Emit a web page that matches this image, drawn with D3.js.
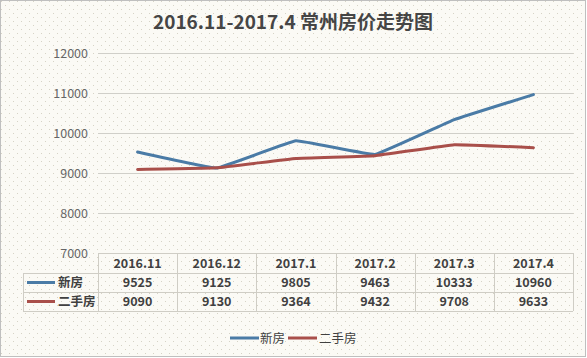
<!DOCTYPE html>
<html><head><meta charset="utf-8">
<script src="https://cdn.jsdelivr.net/npm/d3@7"></script>
<style>
html,body{margin:0;padding:0;background:#fff;}
svg{display:block;font-family:"Microsoft YaHei","Noto Sans CJK SC",sans-serif;}
</style></head>
<body><svg id="c" width="587" height="358"></svg>
<script>
const categories = ["2016.11","2016.12","2017.1","2017.2","2017.3","2017.4"];
const seriesNames = ["新房","二手房"];
const newHouse = [9525,9125,9805,9463,10333,10960];
const secondHand = [9090,9130,9364,9432,9708,9633];
const yTicks = [7000,8000,9000,10000,11000,12000];
const colors = ["#4a7ba6","#a94f4a"];
const title = "2016.11-2017.4 常州房价走势图";

const svg = d3.select("#c");
const defs = svg.append("defs");
const pat = defs.append("pattern").attr("id","dots").attr("width",8).attr("height",8).attr("patternUnits","userSpaceOnUse");
pat.append("rect").attr("width",8).attr("height",8).attr("fill","#fbfaf5");
pat.append("rect").attr("x",1).attr("y",1).attr("width",1).attr("height",1).attr("fill","#d6d3c6");
pat.append("rect").attr("x",5).attr("y",5).attr("width",1).attr("height",1).attr("fill","#d6d3c6");

svg.append("rect").attr("x",0.5).attr("y",0.5).attr("width",585).attr("height",356)
  .attr("fill","url(#dots)").attr("stroke","#bfbfbf");

svg.append("text").attr("x",293).attr("y",29).attr("text-anchor","middle")
  .attr("font-size",19).attr("font-weight","bold").attr("fill","#454545").text(title);

const left = 98, right = 573;
const x = d3.scaleBand().domain(categories).range([left,right]);
const y = d3.scaleLinear().domain([7000,12000]).range([253,53]);

// gridlines
svg.append("g").selectAll("line").data(yTicks.slice(1)).join("line")
  .attr("x1",left).attr("x2",right).attr("y1",d=>y(d)+0.5).attr("y2",d=>y(d)+0.5)
  .attr("stroke","#d0cfc9").attr("stroke-width",1);

const yAxis = d3.axisLeft(y).tickValues(yTicks).tickSize(0).tickPadding(8).tickFormat(d3.format("d"));
const ga = svg.append("g").attr("transform",`translate(${left-2},0)`).call(yAxis);
ga.select(".domain").remove();
ga.selectAll("text").attr("font-size",12.5).attr("fill","#666666")
  .attr("font-family","'Microsoft YaHei','Noto Sans CJK SC',sans-serif");

// lines
const line = d3.line().x((d,i)=>x(categories[i])+x.bandwidth()/2).y(d=>y(d)).curve(d3.curveCardinal.tension(0.8));
[newHouse,secondHand].forEach((s,k)=>{
  svg.append("path").attr("d",line(s)).attr("fill","none").attr("stroke",colors[k])
    .attr("stroke-width",3).attr("stroke-linecap","round").attr("stroke-linejoin","round");
});

// data table
const rowY = [253,273,292,311];
const tableLeft = 23;
const tg = svg.append("g");
const gc = "#cfcdc5";
tg.append("line").attr("x1",left).attr("x2",right).attr("y1",rowY[0]+0.5).attr("y2",rowY[0]+0.5).attr("stroke",gc);
[1,2,3].forEach(i=>tg.append("line").attr("x1",tableLeft).attr("x2",right).attr("y1",rowY[i]+0.5).attr("y2",rowY[i]+0.5).attr("stroke",gc));
tg.append("line").attr("x1",tableLeft+0.5).attr("x2",tableLeft+0.5).attr("y1",rowY[1]).attr("y2",rowY[3]).attr("stroke",gc);
categories.forEach(c=>{
  tg.append("line").attr("x1",Math.round(x(c))+0.5).attr("x2",Math.round(x(c))+0.5).attr("y1",rowY[0]).attr("y2",rowY[3]).attr("stroke",gc);
});
tg.append("line").attr("x1",right+0.5).attr("x2",right+0.5).attr("y1",rowY[0]).attr("y2",rowY[3]).attr("stroke",gc);

const tf = {"font-size":12.5,"font-weight":"bold","fill":"#404040"};
function applyAttrs(sel,o){Object.entries(o).forEach(([k,v])=>sel.attr(k,v));return sel;}
categories.forEach((c,i)=>{
  const cx = x(c)+x.bandwidth()/2;
  applyAttrs(tg.append("text").attr("x",cx).attr("y",(rowY[0]+rowY[1])/2+4.5).attr("text-anchor","middle"),tf).text(c);
  applyAttrs(tg.append("text").attr("x",cx).attr("y",(rowY[1]+rowY[2])/2+4.5).attr("text-anchor","middle"),tf).text(newHouse[i]);
  applyAttrs(tg.append("text").attr("x",cx).attr("y",(rowY[2]+rowY[3])/2+4.5).attr("text-anchor","middle"),tf).text(secondHand[i]);
});
seriesNames.forEach((n,k)=>{
  const cy = (rowY[k+1]+rowY[k+2])/2;
  tg.append("line").attr("x1",27).attr("x2",55).attr("y1",cy).attr("y2",cy).attr("stroke",colors[k]).attr("stroke-width",3);
  applyAttrs(tg.append("text").attr("x",58).attr("y",cy+4.5),tf).text(n);
});

// legend
const lg = svg.append("g");
const legItems = [{x:230,tx:260},{x:288,tx:319}];
seriesNames.forEach((n,k)=>{
  lg.append("line").attr("x1",legItems[k].x).attr("x2",legItems[k].x+29).attr("y1",338).attr("y2",338)
    .attr("stroke",colors[k]).attr("stroke-width",3);
  lg.append("text").attr("x",legItems[k].tx).attr("y",342.5).attr("font-size",12.5).attr("fill","#404040").text(n);
});
</script></body></html>
